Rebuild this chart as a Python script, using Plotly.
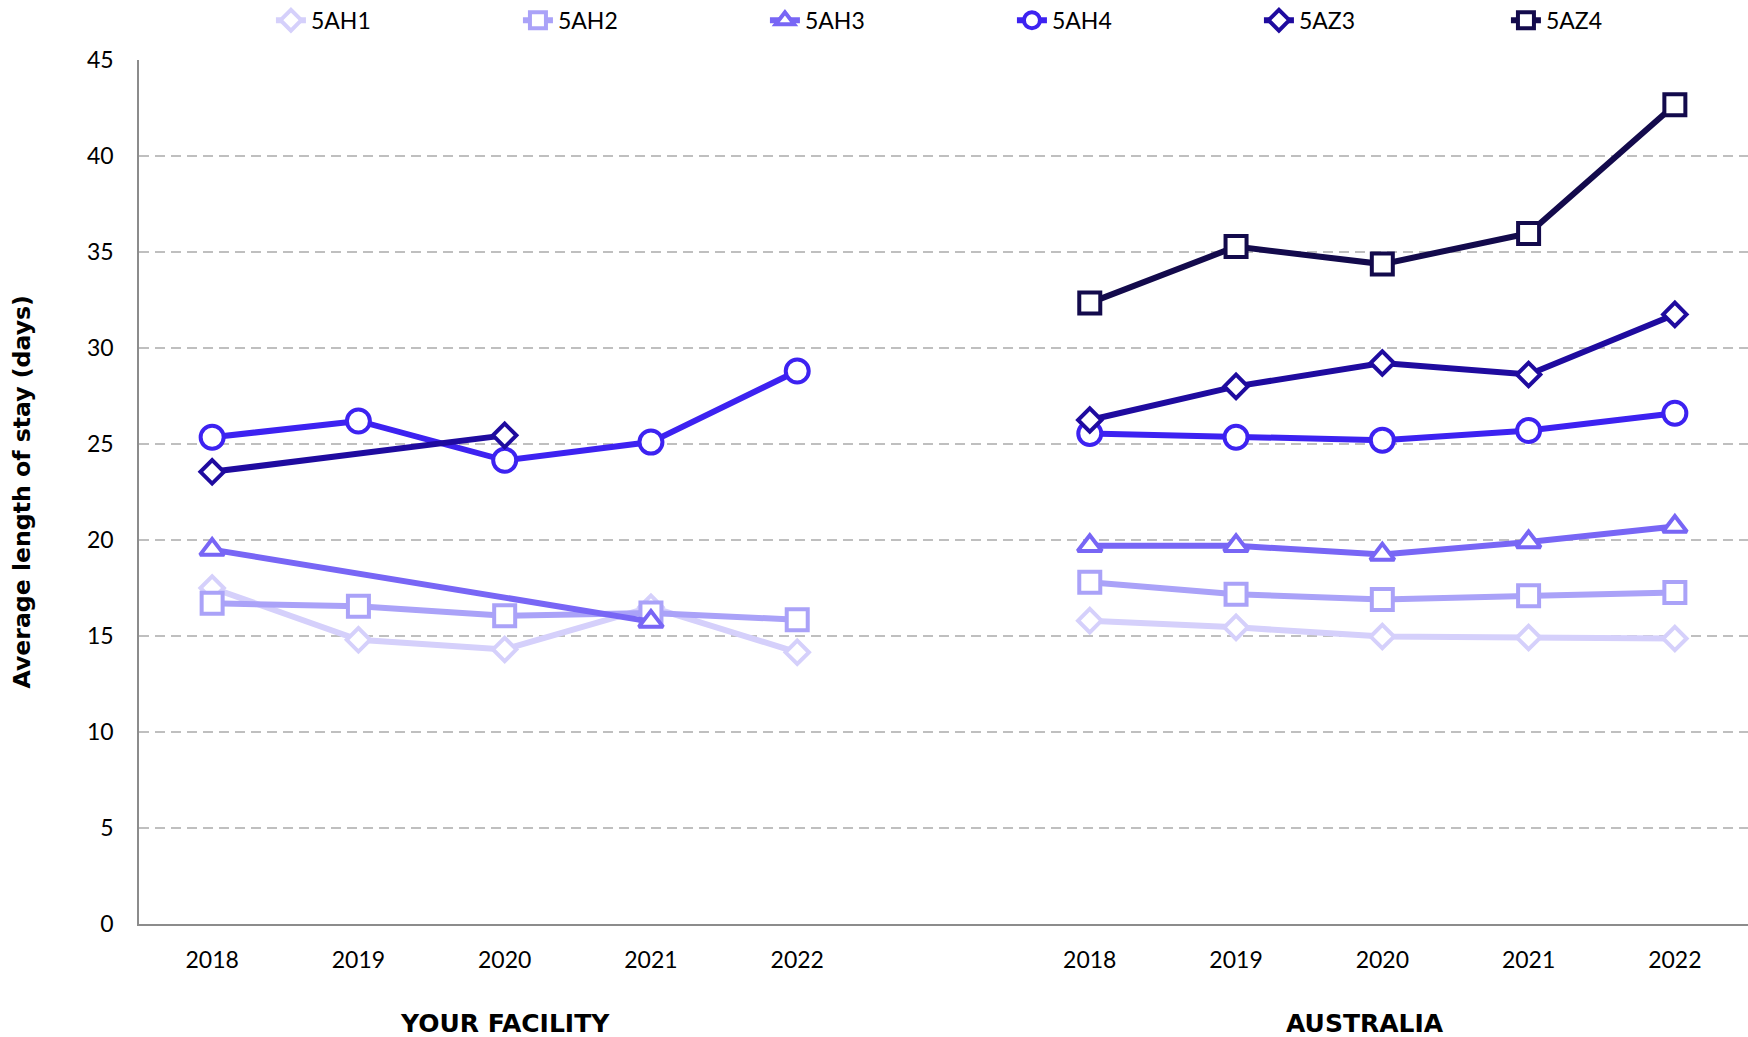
import plotly.graph_objects as go

years = ["2018", "2019", "2020", "2021", "2022"]
groups = ["YOUR FACILITY", "AUSTRALIA"]
series_names = ["5AH1", "5AH2", "5AH3", "5AH4", "5AZ3", "5AZ4"]

# YOUR FACILITY values (None = no value)
fac_5AH1 = [17.5, 14.8, 14.3, 16.5, 14.15]
fac_5AH2 = [16.7, 16.55, 16.05, 16.2, 15.85]
fac_5AH3 = [19.5, None, None, 15.75, None]
fac_5AH4 = [25.35, 26.2, 24.15, 25.1, 28.8]
fac_5AZ3 = [23.55, None, 25.45, None, None]
fac_5AZ4 = [None, None, None, None, None]

# AUSTRALIA values
aus_5AH1 = [15.8, 15.45, 14.97, 14.92, 14.87]
aus_5AH2 = [17.8, 17.18, 16.9, 17.1, 17.27]
aus_5AH3 = [19.7, 19.7, 19.25, 19.9, 20.7]
aus_5AH4 = [25.55, 25.35, 25.2, 25.7, 26.6]
aus_5AZ3 = [26.25, 28.0, 29.22, 28.62, 31.75]
aus_5AZ4 = [32.35, 35.28, 34.37, 35.97, 42.67]

fac_data = [fac_5AH1, fac_5AH2, fac_5AH3, fac_5AH4, fac_5AZ3, fac_5AZ4]
aus_data = [aus_5AH1, aus_5AH2, aus_5AH3, aus_5AH4, aus_5AZ3, aus_5AZ4]

colors = ["#d5d0fb", "#aaa2f8", "#7866f5", "#3d22f1", "#1f0b9f", "#130a4c"]
symbols = ["diamond", "square", "triangle-up", "circle", "diamond", "square"]
sizes = [18, 21, 21, 23, 18, 21]

FONT = "Lato"
BOLD = "DejaVu Sans"

fig = go.Figure()

fac_pos = list(range(len(years)))
aus_pos = [i + len(years) + 1 for i in range(len(years))]

for k, name in enumerate(series_names):
    for pos, vals, show in ((fac_pos, fac_data[k], False), (aus_pos, aus_data[k], True)):
        xs = [p for p, v in zip(pos, vals) if v is not None]
        ys = [v for v in vals if v is not None]
        fig.add_trace(go.Scatter(
            x=xs, y=ys, name=name, legendgroup=name, showlegend=show,
            mode="lines+markers",
            line=dict(color=colors[k], width=6),
            marker=dict(symbol=symbols[k], size=sizes[k], color="white",
                        line=dict(color=colors[k], width=4)),
        ))

tickvals = fac_pos + aus_pos
ticktext = years + years

fig.update_layout(
    width=1748, height=1037,
    margin=dict(l=139, r=0, t=60, b=113, autoexpand=False),
    paper_bgcolor="white", plot_bgcolor="white",
    font=dict(family=FONT, size=23, color="#000000"),
    legend=dict(orientation="h", x=0.082, xanchor="left", y=1.046, yanchor="middle",
                font=dict(family=FONT, size=23, color="#000000"),
                entrywidth=202, entrywidthmode="pixels",
                traceorder="normal", bgcolor="rgba(0,0,0,0)"),
    showlegend=True,
)

fig.update_xaxes(
    range=[-0.5, len(tickvals) + 0.5], tickmode="array",
    tickvals=tickvals, ticktext=ticktext,
    showgrid=False, zeroline=False, automargin=False,
    showline=True, linecolor="#8c8c8c", linewidth=1.5,
    ticks="", ticklabelstandoff=15,
    tickfont=dict(family=FONT, size=23, color="#000000"),
)
fig.update_yaxes(
    range=[0, 45], dtick=5, tick0=0,
    showgrid=True, gridcolor="#bfbfbf", griddash="10px,6px", gridwidth=1.5,
    zeroline=False, automargin=False,
    showline=True, linecolor="#8c8c8c", linewidth=1.5,
    ticks="", ticklabelstandoff=19,
    tickfont=dict(family=FONT, size=23, color="#000000"),
)

fig.add_annotation(x=-0.073, xref="paper", y=0.5, yref="paper",
                   xanchor="center", yanchor="middle", textangle=-90,
                   text="<b>Average length of stay (days)</b>", showarrow=False,
                   font=dict(family=BOLD, size=23.6, color="#000000"))

group_centers = [sum(fac_pos) / len(fac_pos), sum(aus_pos) / len(aus_pos) - 0.12]
for g, cx in zip(groups, group_centers):
    fig.add_annotation(x=cx, xref="x", y=-0.115, yref="paper", yanchor="middle",
                       text="<b>" + g + "</b>", showarrow=False,
                       font=dict(family=BOLD, size=25, color="#000000"))

fig.write_html("out.html", config={"displayModeBar": False})

# remove default page margin so the figure sits at the window's top-left corner
with open("out.html", "r", encoding="utf-8") as f:
    html = f.read()
html = html.replace("<head>", "<head><style>html,body{margin:0;padding:0;}</style>", 1)
with open("out.html", "w", encoding="utf-8") as f:
    f.write(html)
